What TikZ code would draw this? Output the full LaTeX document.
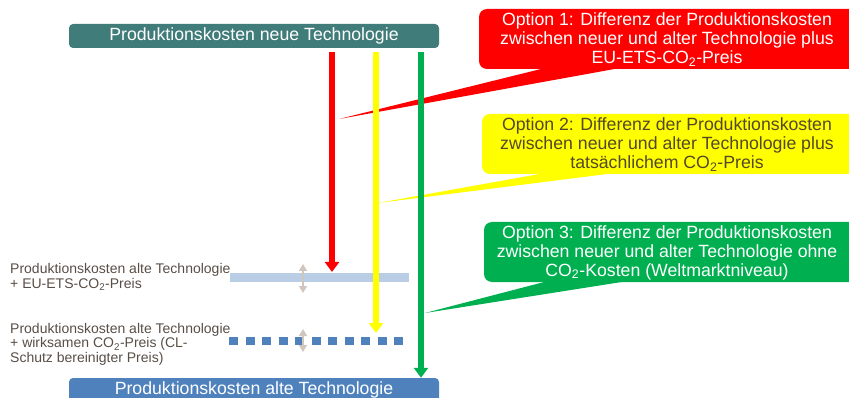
\documentclass[tikz,border=0pt]{standalone}
\usepackage{fontspec}
\setmainfont{Liberation Sans}
\usetikzlibrary{arrows.meta}
\definecolor{neuteal}{RGB}{64,124,121}
\definecolor{altblau}{RGB}{79,129,189}
\definecolor{hellblau}{RGB}{185,205,229}
\definecolor{optrot}{RGB}{255,0,0}
\definecolor{optgelb}{RGB}{255,255,0}
\definecolor{optgruen}{RGB}{0,176,80}
\definecolor{textgrau}{RGB}{88,78,70}
\definecolor{gelbtext}{RGB}{84,72,40}
\definecolor{pfeilgrau}{RGB}{208,198,190}

\tikzset{
  kasten/.style={rounded corners=4pt,minimum width=370pt,minimum height=24pt,inner sep=0pt,text=white,font=\fontsize{17.7}{19}\selectfont},
  opttext/.style={align=center,inner sep=0pt,font=\fontsize{17.7}{19}\selectfont},
  linkstext/.style={anchor=north west,align=left,inner sep=0pt,text=textgrau,font=\fontsize{14}{14.6}\selectfont},
  hauptpfeil/.style={line width=6pt,-{Triangle[width=14pt,length=10pt]}},
  spanne/.style={pfeilgrau,line width=2.6pt,{Triangle[width=8pt,length=7pt]}-{Triangle[width=8pt,length=7pt]}}
}

\begin{document}
\begin{tikzpicture}[x=1pt,y=-1pt]
  \useasboundingbox (0,0) rectangle (849,398);

  % Sprechblasen
  \fill[optrot,rounded corners=8pt] (479,9) rectangle (880,69);
  \fill[optrot] (545,68) -- (339,119) -- (620,68) -- cycle;
  \node[opttext,text=white] (opt1) at (667,39.5) {Option 1: Differenz der Produktionskosten\\zwischen neuer und alter Technologie plus\\EU-ETS-CO\textsubscript{2}-Preis};

  \fill[optgelb,rounded corners=8pt] (482,114) rectangle (880,174);
  \fill[optgelb] (545,173) -- (378,203) -- (615,173) -- cycle;
  \node[opttext,text=gelbtext] (opt2) at (667,144.5) {Option 2: Differenz der Produktionskosten\\zwischen neuer und alter Technologie plus\\tatsächlichem CO\textsubscript{2}-Preis};

  \fill[optgruen,rounded corners=8pt] (484,222) rectangle (880,282);
  \fill[optgruen] (548,281) -- (425,313) -- (628,281) -- cycle;
  \node[opttext,text=white] (opt3) at (667,252.5) {Option 3: Differenz der Produktionskosten\\zwischen neuer und alter Technologie ohne\\CO\textsubscript{2}-Kosten (Weltmarktniveau)};

  % Kosten
  \node[kasten,fill=neuteal] (neu) at (254,36) {Produktionskosten neue Technologie};
  \node[kasten,fill=altblau] (alt) at (254,390) {Produktionskosten alte Technologie};

  \draw[hellblau,line width=8.5pt] (230,277.5) -- (409,277.5);
  \draw[altblau,line width=7.5pt,dash pattern=on 9pt off 7.5pt] (229,341) -- (405,341);

  \node[linkstext] (ets) at (10,263.5) {Produktionskosten alte Technologie\\+ EU-ETS-CO\textsubscript{2}-Preis};
  \node[linkstext] (wirk) at (10,323) {Produktionskosten alte Technologie\\+ wirksamen CO\textsubscript{2}-Preis (CL-\\Schutz bereinigter Preis)};

  \coordinate (s1a) at (303,264);
  \coordinate (s1b) at (303,293);
  \coordinate (s2a) at (303,329);
  \coordinate (s2b) at (303,352);
  \draw[spanne] (s1a) -- (s1b);
  \draw[spanne] (s2a) -- (s2b);

  % Pfeile
  \coordinate (rotend) at (332,272);
  \coordinate (gelbend) at (376,333);
  \draw[hauptpfeil,optrot] (neu.south -| rotend) ++(0,4) -- (rotend);
  \draw[hauptpfeil,optgelb] (neu.south -| gelbend) ++(0,4) -- (gelbend);
  \draw[hauptpfeil,optgruen] ([yshift=-4pt]neu.south -| 421,0) -- (alt.north -| 421,0);
\end{tikzpicture}
\end{document}
